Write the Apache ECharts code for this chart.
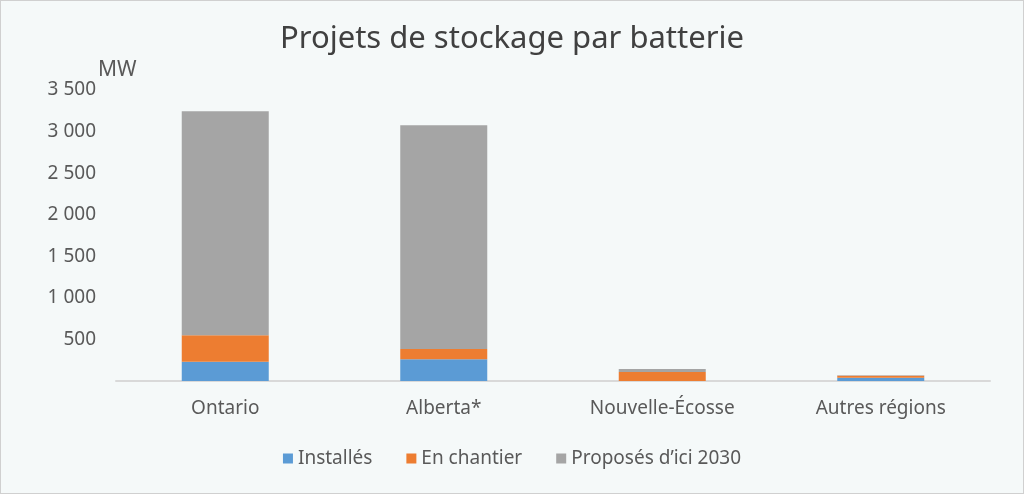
<!DOCTYPE html>
<html><head><meta charset="utf-8">
<script src="https://cdn.jsdelivr.net/npm/echarts@6/dist/echarts.min.js"></script>
<style>html,body{margin:0;padding:0;background:#fff}#c{width:1022px;height:492px;border:1px solid #d0d0d0;background:#f5f9f9}</style>
</head><body><div id="c"></div>
<script>
const categories = ["Ontario", "Alberta*", "Nouvelle-Écosse", "Autres régions"];
const installes = [232, 261, 0, 40];
const enChantier = [318, 124, 107, 22];
const proposes = [2695, 2690, 36, 8];
const seriesNames = ["Installés", "En chantier", "Proposés d’ici 2030"];
const colors = ["#5b9bd5", "#ed7d31", "#a5a5a5"];
const font = "Noto Sans";
const chart = echarts.init(document.getElementById('c'));
chart.setOption({
  backgroundColor: '#f5f9f9',
  textStyle: {fontFamily: font},
  title: {text: 'Projets de stockage par batterie', left: 'center', top: 18,
    textStyle: {fontFamily: font, fontSize: 31, fontWeight: 'normal', color: '#404040'}},
  legend: {bottom: 20, itemWidth: 10, itemHeight: 10, icon: 'rect', itemGap: 34,
    textStyle: {fontFamily: font, fontSize: 19, color: '#595959'}},
  grid: {left: 115, right: 33, top: 89, bottom: 112},
  xAxis: {type: 'category', data: categories,
    axisLine: {lineStyle: {color: '#d9d9d9', width: 2}}, axisTick: {show: false},
    axisLabel: {fontSize: 19, color: '#595959', margin: 18}},
  yAxis: {type: 'value', min: 0, max: 3500, interval: 500, name: 'MW',
    nameLocation: 'end', nameGap: 0,
    nameTextStyle: {fontSize: 21, color: '#595959', align: 'left', padding: [0, 0, 0, -18], verticalAlign: 'middle'},
    splitLine: {show: false}, axisLine: {show: false}, axisTick: {show: false},
    axisLabel: {fontSize: 19, color: '#595959', margin: 20,
      formatter: v => v === 0 ? '' : v.toLocaleString('fr-FR').replace(/\u202f|\u00a0/g, ' ')}},
  series: [installes, enChantier, proposes].map((d, i) => ({
    name: seriesNames[i], type: 'bar', stack: 's', data: d, barWidth: 87,
    itemStyle: {color: colors[i]}
  }))
});
</script></body></html>
